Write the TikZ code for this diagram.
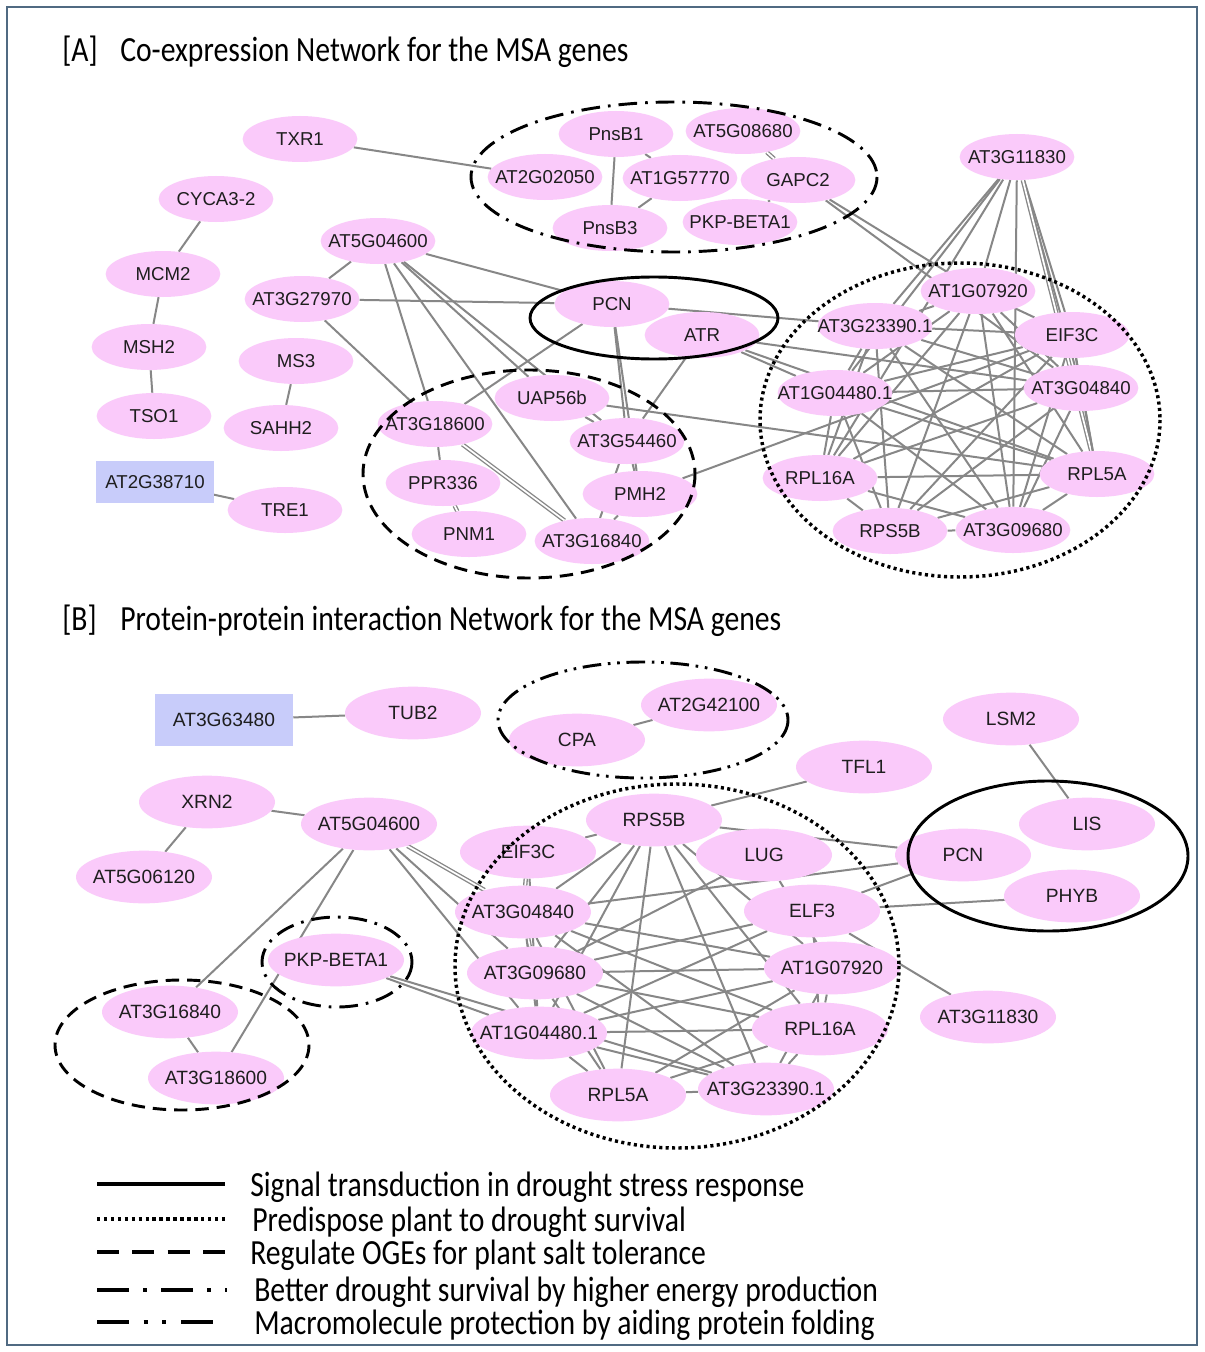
\documentclass[tikz,border=0pt]{standalone}
\usepackage{fontspec}
\setmainfont{Liberation Sans}
\newfontfamily\calfont[FakeStretch=0.84]{Carlito}
\usetikzlibrary{shapes.geometric}
\pgfdeclarelayer{bg}\pgfdeclarelayer{fg}\pgfsetlayers{bg,main,fg}
\definecolor{nodepink}{RGB}{250,202,250}
\definecolor{rectblue}{RGB}{200,204,250}
\definecolor{edgegray}{RGB}{135,135,135}
\definecolor{framecol}{RGB}{80,106,130}
\definecolor{txt}{RGB}{30,30,30}
\begin{document}
\begin{tikzpicture}[x=0.75pt,y=-0.75pt,
  gA/.style={ellipse,fill=nodepink,minimum width=86pt,minimum height=34.5pt,inner xsep=-24pt,inner ysep=-6pt,font=\fontsize{14}{14}\selectfont,text=txt},
  gB/.style={ellipse,fill=nodepink,minimum width=102pt,minimum height=39.5pt,inner xsep=-24pt,inner ysep=-6pt,font=\fontsize{14.4}{14.4}\selectfont,text=txt},
  rA/.style={rectangle,fill=rectblue,minimum width=88pt,minimum height=31pt,inner sep=0pt,font=\fontsize{14}{14}\selectfont,text=txt},
  rB/.style={rectangle,fill=rectblue,minimum width=103.5pt,minimum height=39pt,inner sep=0pt,font=\fontsize{14.4}{14.4}\selectfont,text=txt},
  ed/.style={draw=edgegray,line width=1.5pt},
  ed2/.style={draw=edgegray,line width=1pt,double=white,double distance=1.3pt},
  grp/.style={draw=black,line width=2.2pt},
  gsolid/.style={grp},
  gdotted/.style={grp,line width=2.6pt,dash pattern=on 2.3pt off 2.5pt},
  gdashed/.style={grp,dash pattern=on 10pt off 6pt},
  gdashdot/.style={grp,dash pattern=on 14pt off 6pt on 2pt off 6pt},
  gdashdotdot/.style={grp,dash pattern=on 14pt off 5pt on 2pt off 5pt on 2pt off 5pt},
  ttl/.style={anchor=base west,inner sep=0pt,font=\calfont\fontsize{26.5}{26.5}\selectfont,text=black},
  leg/.style={draw=black,line width=3pt},
]
\useasboundingbox (0,0) rectangle (1204,1352);
\begin{pgfonlayer}{bg}
\fill[white] (0,0) rectangle (1204,1352);
\end{pgfonlayer}
\draw[framecol,line width=2pt] (7,7) rectangle (1197,1345);

% ---------------- titles
\node[ttl] (tA1) at (62,62) {[A]};
\node[ttl] (tA2) at (120,62) {Co-expression Network for the MSA genes};
\node[ttl] (tB1) at (62,630) {[B]};
\node[ttl] (tB2) at (120,630) {Protein-protein interaction Network for the MSA genes};

% ---------------- panel A nodes
\node[gA] (aTXR) at (300,139) {TXR1};
\node[gA] (aCYC) at (216,199) {CYCA3-2};
\node[gA] (aMCM) at (163,274) {MCM2};
\node[gA] (aMSH) at (149,347) {MSH2};
\node[gA] (aTSO) at (154,416) {TSO1};
\node[gA] (aFa) at (378,241) {AT5G04600};
\node[gA] (aFb) at (302,299) {AT3G27970};
\node[gA] (aMS) at (296,361) {MS3};
\node[gA] (aSAHH) at (281,428) {SAHH2};
\node[rA] (aRect) at (155,482) {AT2G38710};
\node[gA] (aTRE) at (285,510) {TRE1};
\node[gA] (aPnsBa) at (616,134) {PnsB1};
\node[gA] (aFc) at (743,131) {AT5G08680};
\node[gA] (aFd) at (545,177) {AT2G02050};
\node[gA] (aFe) at (680,178) {AT1G57770};
\node[gA] (aGAPC) at (798,180) {GAPC2};
\node[gA] (aPnsBb) at (610,228) {PnsB3};
\node[gA] (aPKP) at (740,222) {PKP-BETA1};
\node[gA] (aFf) at (1017,157) {AT3G11830};
\node[gA] (aPCN) at (612,304) {PCN};
\node[gA] (aATR) at (702,335) {ATR};
\node[gA] (aFg) at (978,291) {AT1G07920};
\node[gA] (aFh) at (875,326) {AT3G23390.1};
\node[gA] (aEIF) at (1072,335) {EIF3C};
\node[gA] (aFi) at (835,393) {AT1G04480.1};
\node[gA] (aFj) at (1081,388) {AT3G04840};
\node[gA] (aUAP) at (552,398) {UAP56b};
\node[gA] (aFk) at (435,424) {AT3G18600};
\node[gA] (aFl) at (627,441) {AT3G54460};
\node[gA] (aPPR) at (443,483) {PPR336};
\node[gA] (aPMH) at (640,494) {PMH2};
\node[gA] (aPNM) at (469,534) {PNM1};
\node[gA] (aFm) at (592,541) {AT3G16840};
\node[gA] (aLa) at (820,478) {RPL16A};
\node[gA] (aLb) at (1097,474) {RPL5A};
\node[gA] (aRPS) at (890,531) {RPS5B};
\node[gA] (aFn) at (1013,530) {AT3G09680};

% ---------------- panel B nodes
\node[rB] (bRect) at (224,720) {AT3G63480};
\node[gB] (bTUB) at (413,713) {TUB2};
\node[gB] (bCPA) at (577,740) {CPA};
\node[gB] (bFa) at (709,705) {AT2G42100};
\node[gB] (bLSM) at (1011,719) {LSM2};
\node[gB] (bTFL) at (864,767) {TFL1};
\node[gB] (bXRN) at (207,802) {XRN2};
\node[gB] (bFb) at (369,824) {AT5G04600};
\node[gB] (bFc) at (144,877) {AT5G06120};
\node[gB] (bRPS) at (654,820) {RPS5B};
\node[gB] (bEIF) at (528,852) {EIF3C};
\node[gB] (bLUG) at (764,855) {LUG};
\node[gB] (bLIS) at (1087,824) {LIS};
\node[gB] (bPCN) at (963,855) {PCN};
\node[gB] (bPHYB) at (1072,896) {PHYB};
\node[gB] (bFd) at (523,912) {AT3G04840};
\node[gB] (bELF) at (812,911) {ELF3};
\node[gB] (bPKP) at (336,960) {PKP-BETA1};
\node[gB] (bFe) at (535,973) {AT3G09680};
\node[gB] (bFf) at (832,968) {AT1G07920};
\node[gB] (bFg) at (170,1012) {AT3G16840};
\node[gB] (bFh) at (539,1033) {AT1G04480.1};
\node[gB] (bLa) at (820,1029) {RPL16A};
\node[gB] (bFi) at (988,1017) {AT3G11830};
\node[gB] (bFj) at (216,1078) {AT3G18600};
\node[gB] (bLb) at (618,1095) {RPL5A};
\node[gB] (bFk) at (766,1089) {AT3G23390.1};

% ---------------- edges
\begin{pgfonlayer}{bg}
\foreach \u/\v in {aTXR/aFd,aCYC/aMCM,aMCM/aMSH,aMSH/aTSO,aMS/aSAHH,aRect/aTRE,
  aPnsBa/aPnsBb,aPnsBa/aFe,aFe/aPnsBb,aGAPC/aPKP,aGAPC/aFg,aGAPC/aFj,
  aFa/aFb,aFa/aPCN,aFa/aFk,aFa/aFm,aFa/aUAP,aFa/aFl,
  aFb/aPCN,aFb/aFk,aFk/aPCN,aFk/aPPR,
  aPCN/aFl,aPCN/aPMH,aPCN/aFh,
  aATR/aFl,aATR/aFi,aATR/aFj,aATR/aLb,
  aUAP/aFl,aUAP/aLb,aFl/aPMH,aFl/aFm,aPMH/aFm,aPMH/aEIF,
  aFf/aFh,aFf/aFg,aFf/aFn,aFf/aEIF,aFf/aFj,aFf/aLa,aFf/aFi}
  \draw[ed] (\u) -- (\v);
\foreach \u/\v in {aFc/aGAPC,aFk/aFm,aPPR/aPNM,aFf/aLb}
  \draw[ed2] (\u) -- (\v);
\foreach [count=\i] \u in {aFg,aFh,aEIF,aFi,aFj,aLa,aLb,aRPS,aFn}{
  \foreach [count=\j] \v in {aFg,aFh,aEIF,aFi,aFj,aLa,aLb,aRPS,aFn}{
    \ifnum\j>\i \draw[ed] (\u) -- (\v); \fi}}

\foreach \u/\v in {bRect/bTUB,bCPA/bFa,bLSM/bLIS,bTFL/bRPS,bXRN/bFb,bXRN/bFc,
  bFb/bFg,bFb/bFj,bFb/bFe,bFb/bFh,bFg/bFj,bPKP/bFh,bPKP/bFk,
  bRPS/bPCN,bFd/bPCN,bELF/bPCN,bELF/bPHYB,bELF/bFi,
  bRPS/bEIF,bEIF/bFe,bELF/bFe,bELF/bFh,bELF/bLa,bLUG/bFf,bLUG/bFe}
  \draw[ed] (\u) -- (\v);
\foreach \u/\v in {bFb/bFd,bEIF/bFd,bFd/bFe}
  \draw[ed2] (\u) -- (\v);
\foreach [count=\i] \u in {bRPS,bFd,bFe,bFh,bLb,bFk,bLa,bFf}{
  \foreach [count=\j] \v in {bRPS,bFd,bFe,bFh,bLb,bFk,bLa,bFf}{
    \ifnum\j>\i \ifnum\i=2 \ifnum\j=3 \else \draw[ed] (\u) -- (\v); \fi
    \else \draw[ed] (\u) -- (\v); \fi \fi}}
\end{pgfonlayer}

% ---------------- group outlines
\begin{pgfonlayer}{fg}
\draw[gdashdot] (674,177) ellipse [x radius=203, y radius=75];
\draw[gsolid] (654,318) ellipse [x radius=124, y radius=41];
\draw[gdashed] (529,474) ellipse [x radius=166, y radius=104];
\draw[gdotted] (960,420) ellipse [x radius=200, y radius=157];
\draw[gdashdotdot] (643,720) ellipse [x radius=145, y radius=58];
\draw[gsolid] (1048,856) ellipse [x radius=140, y radius=75];
\draw[gdotted] (677,966) ellipse [x radius=222, y radius=182];
\draw[gdashdot] (337,962) ellipse [x radius=75, y radius=45];
\draw[gdashed] (182,1045) ellipse [x radius=127, y radius=65];
\end{pgfonlayer}

% ---------------- legend
\coordinate (la1) at (97,1184); \coordinate (lb1) at (225,1184);
\coordinate (la2) at (97,1219); \coordinate (lb2) at (225,1219);
\coordinate (la3) at (97,1252); \coordinate (lb3) at (225,1252);
\coordinate (la4) at (97,1290); \coordinate (lb4) at (227,1290);
\coordinate (la5) at (97,1322); \coordinate (lb5) at (227,1322);
\draw[leg] (la1) -- (lb1);
\draw[leg,dash pattern=on 2.6pt off 2.6pt] (la2) -- (lb2);
\draw[leg,dash pattern=on 16.5pt off 10pt] (la3) -- (lb3);
\draw[leg,dash pattern=on 24pt off 10.5pt on 3pt off 10.5pt] (la4) -- (lb4);
\draw[leg,dash pattern=on 24pt off 11pt on 3pt off 11pt on 3pt off 11pt] (la5) -- (lb5);
\node[ttl] (lt1) at (250,1196) {Signal transduction in drought stress response};
\node[ttl] (lt2) at (252,1231) {Predispose plant to drought survival};
\node[ttl] (lt3) at (250,1264) {Regulate OGEs for plant salt tolerance};
\node[ttl] (lt4) at (254,1301) {Better drought survival by higher energy production};
\node[ttl] (lt5) at (254,1334) {Macromolecule protection by aiding protein folding};
\end{tikzpicture}
\end{document}
